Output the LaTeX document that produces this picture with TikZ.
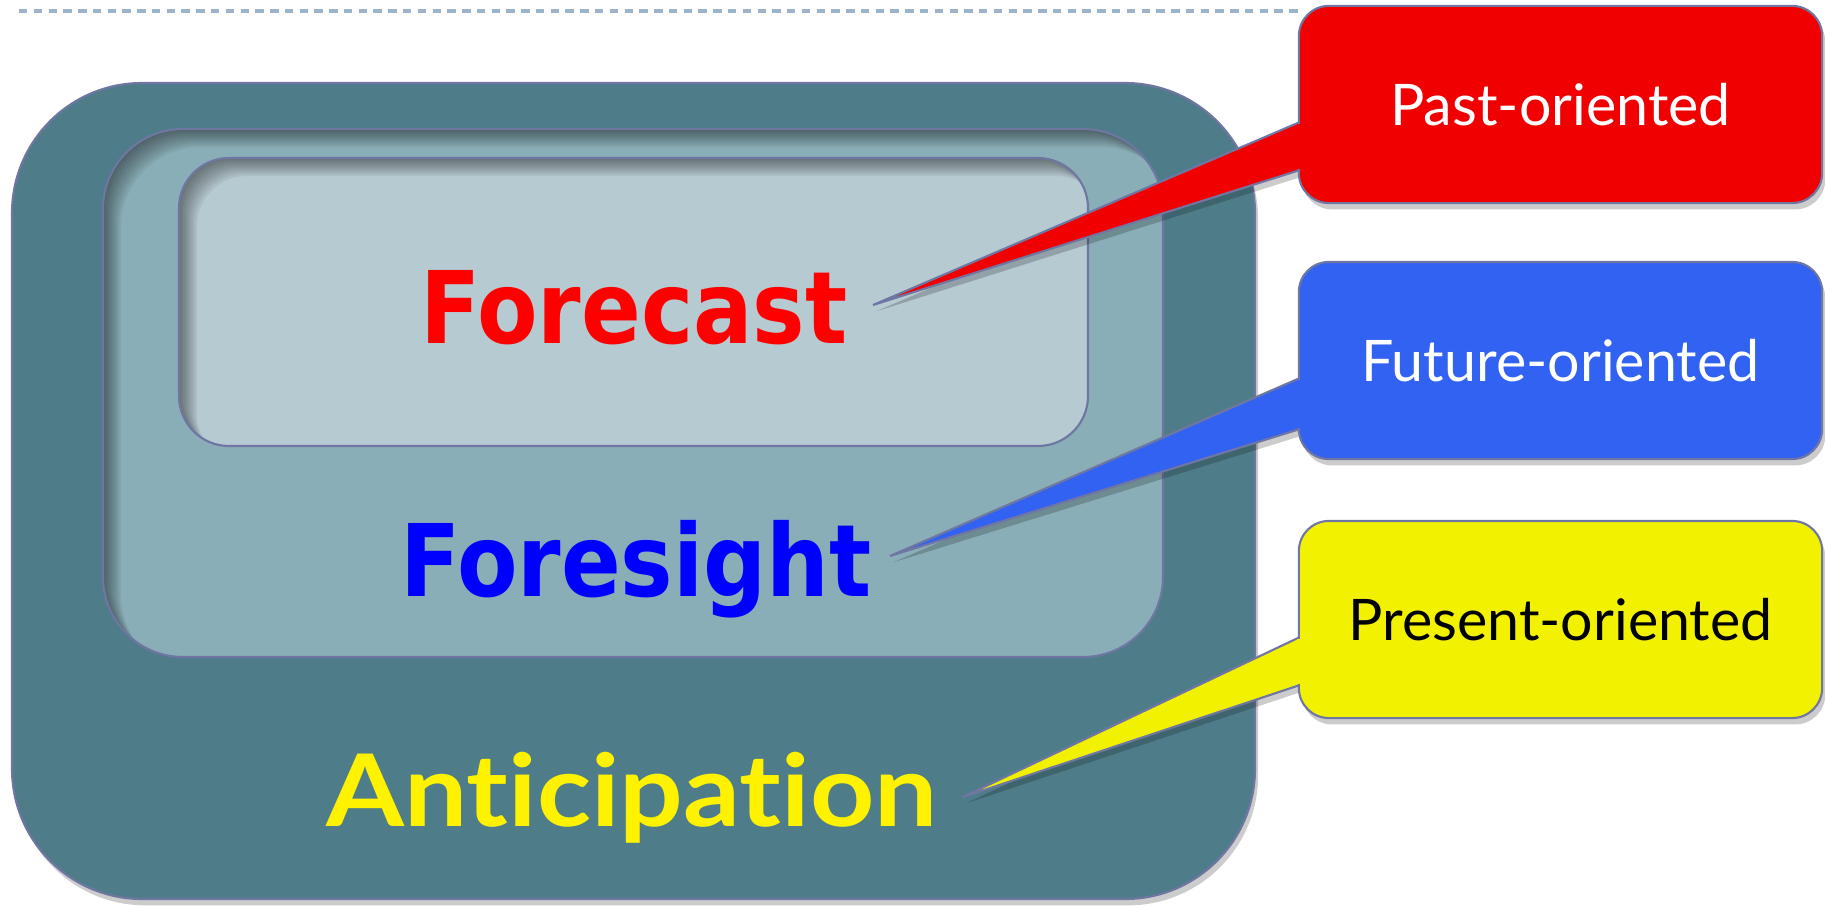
\documentclass[tikz,border=0pt]{standalone}
\usepackage{fontspec}
\usepackage{graphicx}
\usetikzlibrary{shadows}
\newfontfamily\headfont{DejaVu Sans}
\newfontfamily\tagfont{Lato}[Ligatures={NoCommon,NoDiscretionary}]

\definecolor{outerteal}{HTML}{4E7D89}
\definecolor{midteal}{HTML}{8AAEB7}
\definecolor{innerteal}{HTML}{B6CAD1}
\definecolor{rimline}{HTML}{6F76A2}
\definecolor{dashblue}{HTML}{9CB3C8}
\definecolor{pastred}{HTML}{F00000}
\definecolor{futureblue}{HTML}{3262F2}
\definecolor{presentyellow}{HTML}{F2F200}

\pgfdeclarelayer{panels}
\pgfdeclarelayer{tails}
\pgfsetlayers{panels,tails,main}

\begin{document}
\begin{tikzpicture}[%
      x=0.01cm, y=-0.01cm,
      rim/.style={draw=rimline, line width=0.6pt},
      softshadow/.style={drop shadow={shadow xshift=0.9pt, shadow yshift=-1.8pt, opacity=0.2, fill=black}},
      tag/.style={rim, softshadow, rounded corners=0.3cm, minimum width=5.23cm,
                  minimum height=1.97cm, inner sep=0pt, font=\tagfont\fontsize{16.3}{18}\selectfont},
      word/.style={inner sep=0pt, anchor=base},
      ]
      \useasboundingbox (0,0) rectangle (1825,906);
      \draw [dashblue, line width=0.9pt, dash pattern=on 2.4pt off 1.8pt] (19,11) -- (1300,11);

      \begin{pgfonlayer}{panels}
      \draw [rim, fill=outerteal, rounded corners=1.3cm, softshadow] (12,83) rectangle (1255,899);

      \fill [midteal, rounded corners=0.8cm] (103,129) rectangle (1163,657);
      \begin{scope}
        \clip [rounded corners=0.8cm] (103,129) rectangle (1163,657);
        \foreach \s in {2,4,...,18}
          \fill [black, opacity=0.055, even odd rule] (0,0) rectangle (1300,900)
            [rounded corners=0.8cm] (103+\s,129+\s) rectangle (1163+\s,657+\s);
      \end{scope}
      \draw [rim, rounded corners=0.8cm] (103,129) rectangle (1163,657);

      \fill [innerteal, rounded corners=0.5cm] (179,158) rectangle (1088,446);
      \begin{scope}
        \clip [rounded corners=0.5cm] (179,158) rectangle (1088,446);
        \foreach \s in {2,4,...,18}
          \fill [black, opacity=0.055, even odd rule] (0,0) rectangle (1300,900)
            [rounded corners=0.5cm] (179+\s,158+\s) rectangle (1088+\s,446+\s);
      \end{scope}
      \draw [rim, rounded corners=0.5cm] (179,158) rectangle (1088,446);
      \end{pgfonlayer}

      \node [word, text=red, font=\headfont\bfseries\fontsize{28.5}{30}\selectfont]
        (forecast) at (634,343) {\scalebox{0.88}[1]{Forecast}};
      \node [word, text=blue, font=\headfont\bfseries\fontsize{28.5}{30}\selectfont]
        (foresight) at (636,596) {\scalebox{0.88}[1]{Foresight}};
      \node [word, text=yellow, font=\tagfont\bfseries\fontsize{28.5}{30}\selectfont]
        (anticipation) at (632,826) {\scalebox{1.12}[1]{Anticipation}};

      \node [tag, fill=pastred, text=white] (past) at (1560.5,104.5) {Past-oriented};
      \node [tag, fill=futureblue, text=white] (future) at (1560.5,360.5) {Future-oriented};
      \node [tag, fill=presentyellow, text=black] (present) at (1560.5,619.5) {Present-oriented};

      \coordinate (tippast) at (873,305);
      \coordinate (tipfuture) at (890,556);
      \coordinate (tippresent) at (963,797);

      \begin{pgfonlayer}{tails}
      \draw [rim, fill=pastred, softshadow] (tippast) -- (1300,122) -- (1300,170) -- cycle;
      \draw [rim, fill=futureblue, softshadow] (tipfuture) -- (1300,378) -- (1300,429) -- cycle;
      \draw [rim, fill=presentyellow, softshadow] (tippresent) -- (1300,637) -- (1300,685) -- cycle;
      \end{pgfonlayer}

      % close the seam where tail meets box
      \fill [pastred] (1297,123.5) rectangle (1302,168.5);
      \fill [futureblue] (1297,379.5) rectangle (1302,427.5);
      \fill [presentyellow] (1297,638.5) rectangle (1302,683.5);
\end{tikzpicture}
\end{document}
